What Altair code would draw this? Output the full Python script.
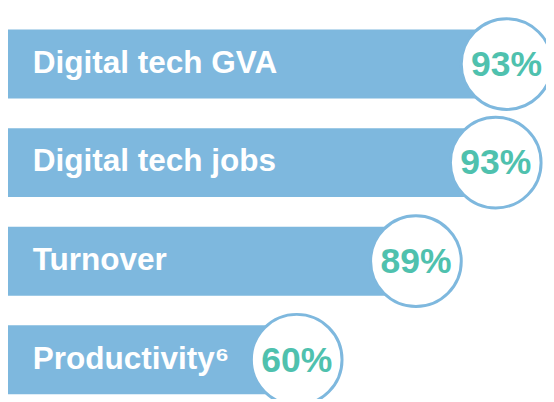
import altair as alt
import pandas as pd

categories = ["Digital tech GVA", "Digital tech jobs", "Turnover", "Productivity\u2076"]
percent_values = [93, 93, 89, 60]
# bar lengths as drawn in the infographic (display units, not proportional)
bar_lengths = [506, 495, 414, 293]

df = pd.DataFrame({
    "cat": categories,
    "pct": percent_values,
    "len": bar_lengths,
})
df["pct_label"] = df["pct"].astype(str) + "%"
df["start"] = 0

BLUE = "#7eb8de"
TEAL = "#4fc1ae"

xs = alt.Scale(domain=[0, 546], range=[0, 546], nice=False, zero=False)
ys = alt.Scale(domain=categories, range=[19, 389], paddingInner=0.3, paddingOuter=0)

base = alt.Chart(df).encode(
    y=alt.Y("cat:N", scale=ys, axis=None, sort=categories),
)

bars = base.mark_bar(color=BLUE, cornerRadius=0).encode(
    x=alt.X("start:Q", scale=xs, axis=None),
    x2="len:Q",
)

labels = base.mark_text(
    align="left", baseline="middle", color="white",
    font="Liberation Sans", fontWeight="bold", fontSize=32, dx=25, dy=-1,
).encode(
    x=alt.X("start:Q", scale=xs, axis=None),
    text="cat:N",
)

circles = base.mark_point(
    shape="circle", filled=False, fill="white", fillOpacity=1,
    stroke=BLUE, strokeWidth=3, size=8464, opacity=1,
).encode(
    x=alt.X("len:Q", scale=xs, axis=None),
)

pcts = base.mark_text(
    align="center", baseline="middle", color=TEAL,
    font="Liberation Sans", fontWeight="bold", fontSize=36, dy=1,
).encode(
    x=alt.X("len:Q", scale=xs, axis=None),
    text="pct_label:N",
)

chart = alt.layer(bars, labels, circles, pcts).properties(
    width=546, height=394, padding=0, autosize=alt.AutoSizeParams(type="none"),
).configure_view(stroke=None, clip=True)

chart.save("out.html", embed_options={"renderer": "svg", "actions": False})
